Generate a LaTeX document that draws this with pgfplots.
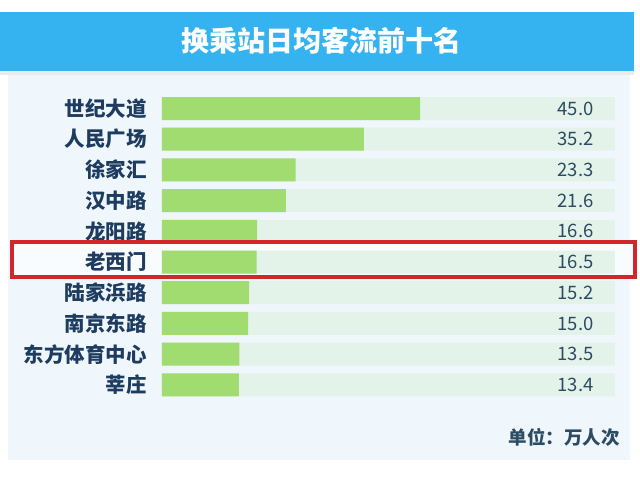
\documentclass[border=0pt]{standalone}
\usepackage{pgfplots}
\pgfplotsset{compat=1.18}
\usepackage{pgfplotstable}
\usepackage{fontspec}
\setmainfont{Noto Sans CJK SC}

\definecolor{headblue}{HTML}{35B2F0}
\definecolor{panelc}{HTML}{EFF7FC}
\definecolor{trackc}{HTML}{E3F3EA}
\definecolor{barc}{HTML}{A0DC70}
\definecolor{labelc}{HTML}{1E3C5F}
\definecolor{valc}{HTML}{2D4B62}
\definecolor{boxred}{HTML}{D0262D}

% idx: row from top, val: 10k passengers per day, track: background bar, pos: where the value is written
\pgfplotstableread{
idx val track pos
0 45.0 79 75.3
1 35.2 79 75.3
2 23.3 79 75.3
3 21.6 79 75.3
4 16.6 79 75.3
5 16.5 79 75.3
6 15.2 79 75.3
7 15.0 79 75.3
8 13.5 79 75.3
9 13.4 79 75.3
}\flow

\begin{document}
\begin{tikzpicture}
\fill[white] (0,0) rectangle (640pt,480pt);
\fill[panelc] (8pt,20pt) rectangle (630pt,406pt);
\fill[black!8] (0,405pt) rectangle (634pt,409pt);
\fill[headblue] (0,409pt) rectangle (634pt,468pt);
\node[text=white, font=\fontsize{28}{30}\selectfont\bfseries] at (321pt,439pt) {换乘站日均客流前十名};
\fill[white!60!panelc] (12pt,203pt) rectangle (635pt,238pt);

\begin{axis}[
    at={(162pt,79.85pt)}, anchor=south west,
    scale only axis, width=453pt, height=307pt,
    xmin=0, xmax=79, ymin=-0.5, ymax=9.5, y dir=reverse,
    axis line style={draw=none}, tick style={draw=none},
    xtick=\empty, ytick={0,...,9},
    yticklabels={世纪大道,人民广场,徐家汇,汉中路,龙阳路,老西门,陆家浜路,南京东路,东方体育中心,莘庄},
    yticklabel style={font=\fontsize{20.5}{22}\selectfont\bfseries, text=labelc,
        anchor=east, inner sep=0pt, xshift=-15pt},
    clip=false,
]
\addplot[xbar, bar width=23pt, bar shift=0pt, fill=trackc, draw=none]
    table[x=track, y=idx]{\flow};
\addplot[xbar, bar width=23pt, bar shift=0pt, fill=barc, draw=none]
    table[x=val, y=idx]{\flow};
\addplot[draw=none, mark=none, nodes near coords, point meta=explicit symbolic,
    nodes near coords style={anchor=east, inner sep=0pt, text=valc,
        font=\fontsize{18.5}{20}\selectfont}]
    table[x=pos, y=idx, meta=val]{\flow};
\end{axis}

\draw[boxred, line width=4pt] (12pt,203pt) rectangle (635pt,238pt);
\node[anchor=east, inner sep=0pt, text=valc, font=\fontsize{18.5}{20}\selectfont\bfseries]
    at (620pt,43pt) {单位：万人次};

\pgfresetboundingbox
\useasboundingbox (0,0) rectangle (640pt,480pt);
\end{tikzpicture}
\end{document}
